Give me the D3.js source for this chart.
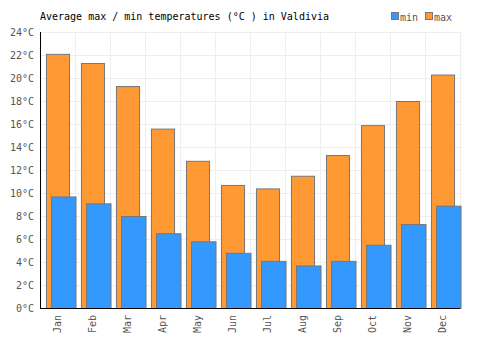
<!DOCTYPE html>
<html>
<head>
<meta charset="utf-8">
<script src="https://cdn.jsdelivr.net/npm/d3@7"></script>
<style>
  body { margin: 0; background: #fff; }
  text { font-family: "DejaVu Sans Mono", "Liberation Mono", monospace; }
</style>
</head>
<body>
<div id="chart"></div>
<script>
const months = ['Jan', 'Feb', 'Mar', 'Apr', 'May', 'Jun', 'Jul', 'Aug', 'Sep', 'Oct', 'Nov', 'Dec'];
const maxTemps = [22.1, 21.3, 19.3, 15.6, 12.8, 10.7, 10.4, 11.5, 13.3, 15.9, 18.0, 20.3];
const minTemps = [9.7, 9.1, 8.0, 6.5, 5.8, 4.8, 4.1, 3.7, 4.1, 5.5, 7.3, 8.9];
const yTicks = [0, 2, 4, 6, 8, 10, 12, 14, 16, 18, 20, 22, 24];

const width = 500, height = 350;
const margin = { top: 32, right: 40, bottom: 42, left: 40 };
const innerW = width - margin.left - margin.right;
const innerH = height - margin.top - margin.bottom;

const svg = d3.select('#chart').append('svg')
  .attr('width', width)
  .attr('height', height);

const g = svg.append('g')
  .attr('transform', `translate(${margin.left},${margin.top})`);

const x = d3.scaleBand().domain(months).range([0, innerW]);
const y = d3.scaleLinear().domain([0, 24]).range([innerH, 0]);
const bw = x.bandwidth();

// grid
g.append('g').selectAll('line.h').data(yTicks).join('line')
  .attr('x1', 0).attr('x2', innerW)
  .attr('y1', d => y(d) + 0.5).attr('y2', d => y(d) + 0.5)
  .attr('stroke', '#eeeeee');
g.append('g').selectAll('line.v').data(months).join('line')
  .attr('x1', d => x(d) + bw + 0.5).attr('x2', d => x(d) + bw + 0.5)
  .attr('y1', 0).attr('y2', innerH)
  .attr('stroke', '#eeeeee');

// max bars (behind)
g.append('g').selectAll('rect').data(maxTemps).join('rect')
  .attr('x', (d, i) => x(months[i]) + bw * 0.17 + 0.5)
  .attr('width', bw * 0.66)
  .attr('y', d => y(d) + 0.5)
  .attr('height', d => innerH - y(d))
  .attr('fill', '#ff9933')
  .attr('stroke', '#777')
  .attr('stroke-width', 1);

// min bars (front)
g.append('g').selectAll('rect').data(minTemps).join('rect')
  .attr('x', (d, i) => x(months[i]) + bw * 0.315 + 0.5)
  .attr('width', bw * 0.70)
  .attr('y', d => y(d) + 0.5)
  .attr('height', d => innerH - y(d))
  .attr('fill', '#3399ff')
  .attr('stroke', '#777')
  .attr('stroke-width', 1);

// axes
const yAxis = g.append('g')
  .call(d3.axisLeft(y).tickValues(yTicks).tickSize(0).tickPadding(6).tickFormat(d => d + '°C'));
yAxis.select('.domain').remove();
yAxis.selectAll('text').attr('fill', '#555').style('font-size', '10px');

const xAxis = g.append('g')
  .attr('transform', `translate(0,${innerH})`)
  .call(d3.axisBottom(x).tickSize(0).tickPadding(0));
xAxis.select('.domain').remove();
xAxis.selectAll('text')
  .attr('fill', '#555')
  .style('font-size', '10px')
  .attr('text-anchor', 'end')
  .attr('dy', '0.35em')
  .attr('transform', 'translate(0,7) rotate(-90)');

g.append('line').attr('x1', 0.5).attr('x2', 0.5).attr('y1', 0).attr('y2', innerH + 0.5)
  .attr('stroke', '#000');
g.append('line').attr('x1', 0).attr('x2', innerW).attr('y1', innerH + 0.5).attr('y2', innerH + 0.5)
  .attr('stroke', '#000');

// title
svg.append('text')
  .attr('x', 40).attr('y', 20)
  .style('font-size', '10px')
  .attr('fill', '#000')
  .text('Average max / min temperatures (°C ) in Valdivia');

// legend
const legend = svg.append('g').attr('transform', 'translate(391,12)');
const legendItems = [{ name: 'min', color: '#3399ff' }, { name: 'max', color: '#ff9933' }];
legendItems.forEach((d, i) => {
  const lg = legend.append('g').attr('transform', `translate(${i * 34},0)`);
  lg.append('rect').attr('x', 0.5).attr('y', 0.5).attr('width', 7).attr('height', 7)
    .attr('fill', d.color).attr('stroke', '#777');
  lg.append('text').attr('x', 9).attr('y', 8.5)
    .style('font-size', '10px').attr('fill', '#555').text(d.name);
});
</script>
</body>
</html>
